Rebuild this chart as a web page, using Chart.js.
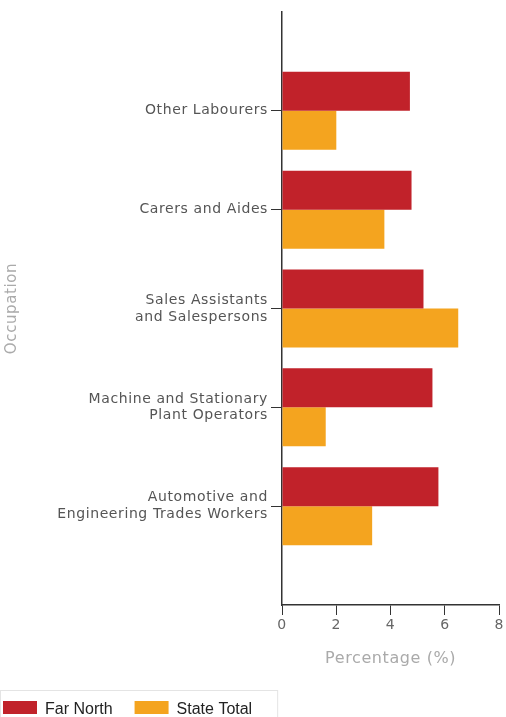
<!DOCTYPE html>
<html>
<head>
<meta charset="utf-8">
<script src="https://cdn.jsdelivr.net/npm/chart.js@4.4.1/dist/chart.umd.min.js"></script>
<style>
html, body { margin: 0; padding: 0; background: #fff; }
#wrap { position: relative; width: 506px; height: 717px; }
</style>
</head>
<body>
<div id="wrap"><canvas id="occChart"></canvas></div>
<script>
const occupations = [
    'Other Labourers',
    'Carers and Aides',
    ['Sales Assistants', 'and Salespersons'],
    ['Machine and Stationary', 'Plant Operators'],
    ['Automotive and', 'Engineering Trades Workers']
];
const farNorth = [4.71, 4.77, 5.21, 5.54, 5.76];
const stateTotal = [2.0, 3.77, 6.49, 1.61, 3.32];
const xTicks = [0, 2, 4, 6, 8];

// empty slot above and below so the bands sit where the original has them
const labels = [''].concat(occupations, ['']);
const pad = arr => [null].concat(arr, [null]);
const isEdge = i => i === 0 || i === labels.length - 1;

// the original axis text is a bit spaced out
const spacing = {
    id: 'spacing',
    beforeLayout(chart) { chart.ctx.letterSpacing = '0.6px'; },
    beforeDraw(chart) { chart.ctx.letterSpacing = '0.6px'; }
};

// legend drawn by hand at the bottom, with the thin grey frame
const legendBox = {
    id: 'legendBox',
    afterDraw(chart) {
        const c = chart.ctx;
        c.save();
        c.letterSpacing = '0px';
        c.font = '16px "Liberation Sans", Arial, sans-serif';
        c.textBaseline = 'alphabetic';
        let x = 3;
        chart.data.datasets.forEach(ds => {
            c.fillStyle = ds.backgroundColor;
            c.fillRect(x, 701, 34, 13);
            c.fillStyle = '#222';
            c.fillText(ds.label, x + 42, 714);
            x += 42 + c.measureText(ds.label).width + 22;
        });
        c.strokeStyle = '#e4e4e4';
        c.lineWidth = 1;
        c.strokeRect(0.5, 690.5, x + 3, 40);
        c.restore();
    }
};

const ctx = document.getElementById('occChart').getContext('2d');
const occChart = new Chart(ctx, {
    type: 'bar',
    data: {
        labels: labels,
        datasets: [{
            label: 'Far North',
            data: pad(farNorth),
            backgroundColor: '#C1222A'
        }, {
            label: 'State Total',
            data: pad(stateTotal),
            backgroundColor: '#F4A41F'
        }]
    },
    options: {
        indexAxis: 'y',
        responsive: true,
        maintainAspectRatio: false,
        animation: false,
        barPercentage: 1,
        categoryPercentage: 0.79,
        layout: { padding: { top: 12, right: 5, bottom: 0, left: 0 } },
        plugins: {
            legend: { display: false },
            tooltip: { enabled: false }
        },
        scales: {
            x: {
                min: 0,
                max: 8,
                afterBuildTicks: s => { s.ticks = xTicks.map(v => ({ value: v })); },
                afterFit: s => { s.height = 112; },
                grid: { drawOnChartArea: false, tickLength: 10, color: '#333' },
                border: { color: '#333', width: 1.5 },
                ticks: {
                    color: '#666',
                    padding: 2,
                    font: { family: 'DejaVu Sans', size: 14 }
                },
                title: {
                    display: true,
                    text: 'Percentage (%)',
                    color: '#aaa',
                    font: { family: 'DejaVu Sans', size: 16 },
                    padding: { top: 0, bottom: 49 }
                }
            },
            y: {
                offset: false,
                afterFit: s => { s.width = 282; },
                grid: {
                    offset: false,
                    drawOnChartArea: false,
                    tickLength: 11,
                    color: c => isEdge(c.index) ? 'rgba(0,0,0,0)' : '#333'
                },
                border: { color: '#333', width: 1.5 },
                ticks: {
                    autoSkip: false,
                    color: '#555',
                    padding: 3,
                    font: { family: 'DejaVu Sans', size: 14, lineHeight: 1.2 }
                },
                title: {
                    display: true,
                    text: 'Occupation',
                    color: '#aaa',
                    font: { family: 'DejaVu Sans', size: 15 },
                    padding: { top: 3, bottom: 0 }
                }
            }
        }
    },
    plugins: [spacing, legendBox]
});
</script>
</body>
</html>
